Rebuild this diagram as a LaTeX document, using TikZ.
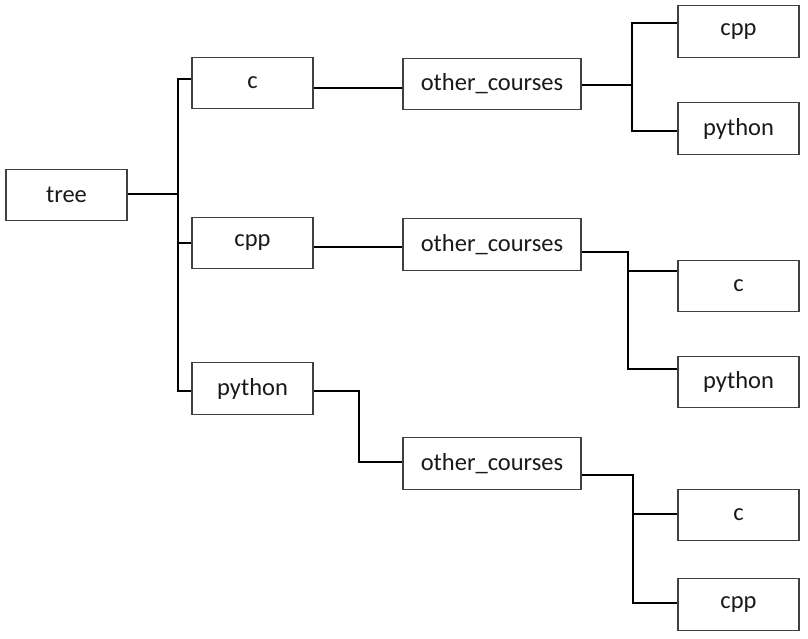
\documentclass[tikz,border=0pt]{standalone}
\usepackage{fontspec}
\setmainfont{Carlito}
\begin{document}
\begin{tikzpicture}[x=1pt,y=-1pt,
  box/.style={draw=black!75,line width=1.4pt,fill=white,inner sep=0pt,
    minimum height=51.5pt,font=\fontsize{24.5}{29}\selectfont,text=black!90},
  small/.style={box,minimum width=121pt},
  wide/.style={box,minimum width=178pt},
  conn/.style={draw=black,line width=2.8pt,line cap=butt,line join=miter}]
\useasboundingbox (0,0) rectangle (808,638);
% nodes
\node[small] (tree) at (66.5,195) {tree};
\node[small] (c) at (252.5,83) {c};
\node[small] (cpp) at (252.5,243) {cpp};
\node[small] (py) at (252.5,388.5) {python};
\node[wide] (oc1) at (492,84) {other\_courses};
\node[wide] (oc2) at (492,244.5) {other\_courses};
\node[wide] (oc3) at (492,463.5) {other\_courses};
\node[small] (cppA) at (738.5,31.5) {cpp};
\node[small] (pyA) at (738.5,128.5) {python};
\node[small] (cB) at (738.5,286) {c};
\node[small] (pyB) at (738.5,382) {python};
\node[small] (cC) at (738.5,515) {c};
\node[small] (cppC) at (738.5,604.5) {cpp};
% junction columns
\coordinate (j0) at (178,0);
\coordinate (j1) at (632,0);
\coordinate (j2) at (628,0);
\coordinate (j3) at (359,0);
\coordinate (j4) at (633,0);
% attachment points
\coordinate (tE) at ([yshift=1pt]tree.east);
\coordinate (cW) at ([yshift=4pt]c.west);
\coordinate (pyW) at ([yshift=-2.5pt]py.west);
\coordinate (cE) at ([yshift=-5pt]c.east);
\coordinate (cppE) at ([yshift=-4pt]cpp.east);
\coordinate (o1E) at ([yshift=-1pt]oc1.east);
\coordinate (cppAW) at ([yshift=8.5pt]cppA.west);
\coordinate (pyAW) at ([yshift=-2.5pt]pyA.west);
\coordinate (o2E) at ([yshift=-7.5pt]oc2.east);
\coordinate (cBW) at ([yshift=15pt]cB.west);
\coordinate (pyBW) at ([yshift=13pt]pyB.west);
\coordinate (pyE) at ([yshift=-2.5pt]py.east);
\coordinate (o3W) at ([yshift=1.5pt]oc3.west);
\coordinate (o3E) at ([yshift=-11.5pt]oc3.east);
\coordinate (cCW) at ([yshift=1pt]cC.west);
\coordinate (cppCW) at ([yshift=1.5pt]cppC.west);
% connectors: level 1
\draw[conn] (tE) -- (tE -| j0);
\draw[conn] (cW) -| (pyW -| j0) -- (pyW);
\draw[conn] (cpp.west -| j0) -- (cpp.west);
% level 2
\draw[conn] (cE) -- (cE -| oc1.west);
\draw[conn] (cppE) -- (cppE -| oc2.west);
\draw[conn] (pyE) -| (o3W -| j3) -- (o3W);
% level 3
\draw[conn] (o1E) -- (o1E -| j1);
\draw[conn] (cppAW) -| (pyAW -| j1) -- (pyAW);
\draw[conn] (o2E) -| (pyBW -| j2) -- (pyBW);
\draw[conn] (cBW -| j2) -- (cBW);
\draw[conn] (o3E) -| (cppCW -| j4) -- (cppCW);
\draw[conn] (cCW -| j4) -- (cCW);
\end{tikzpicture}
\end{document}
